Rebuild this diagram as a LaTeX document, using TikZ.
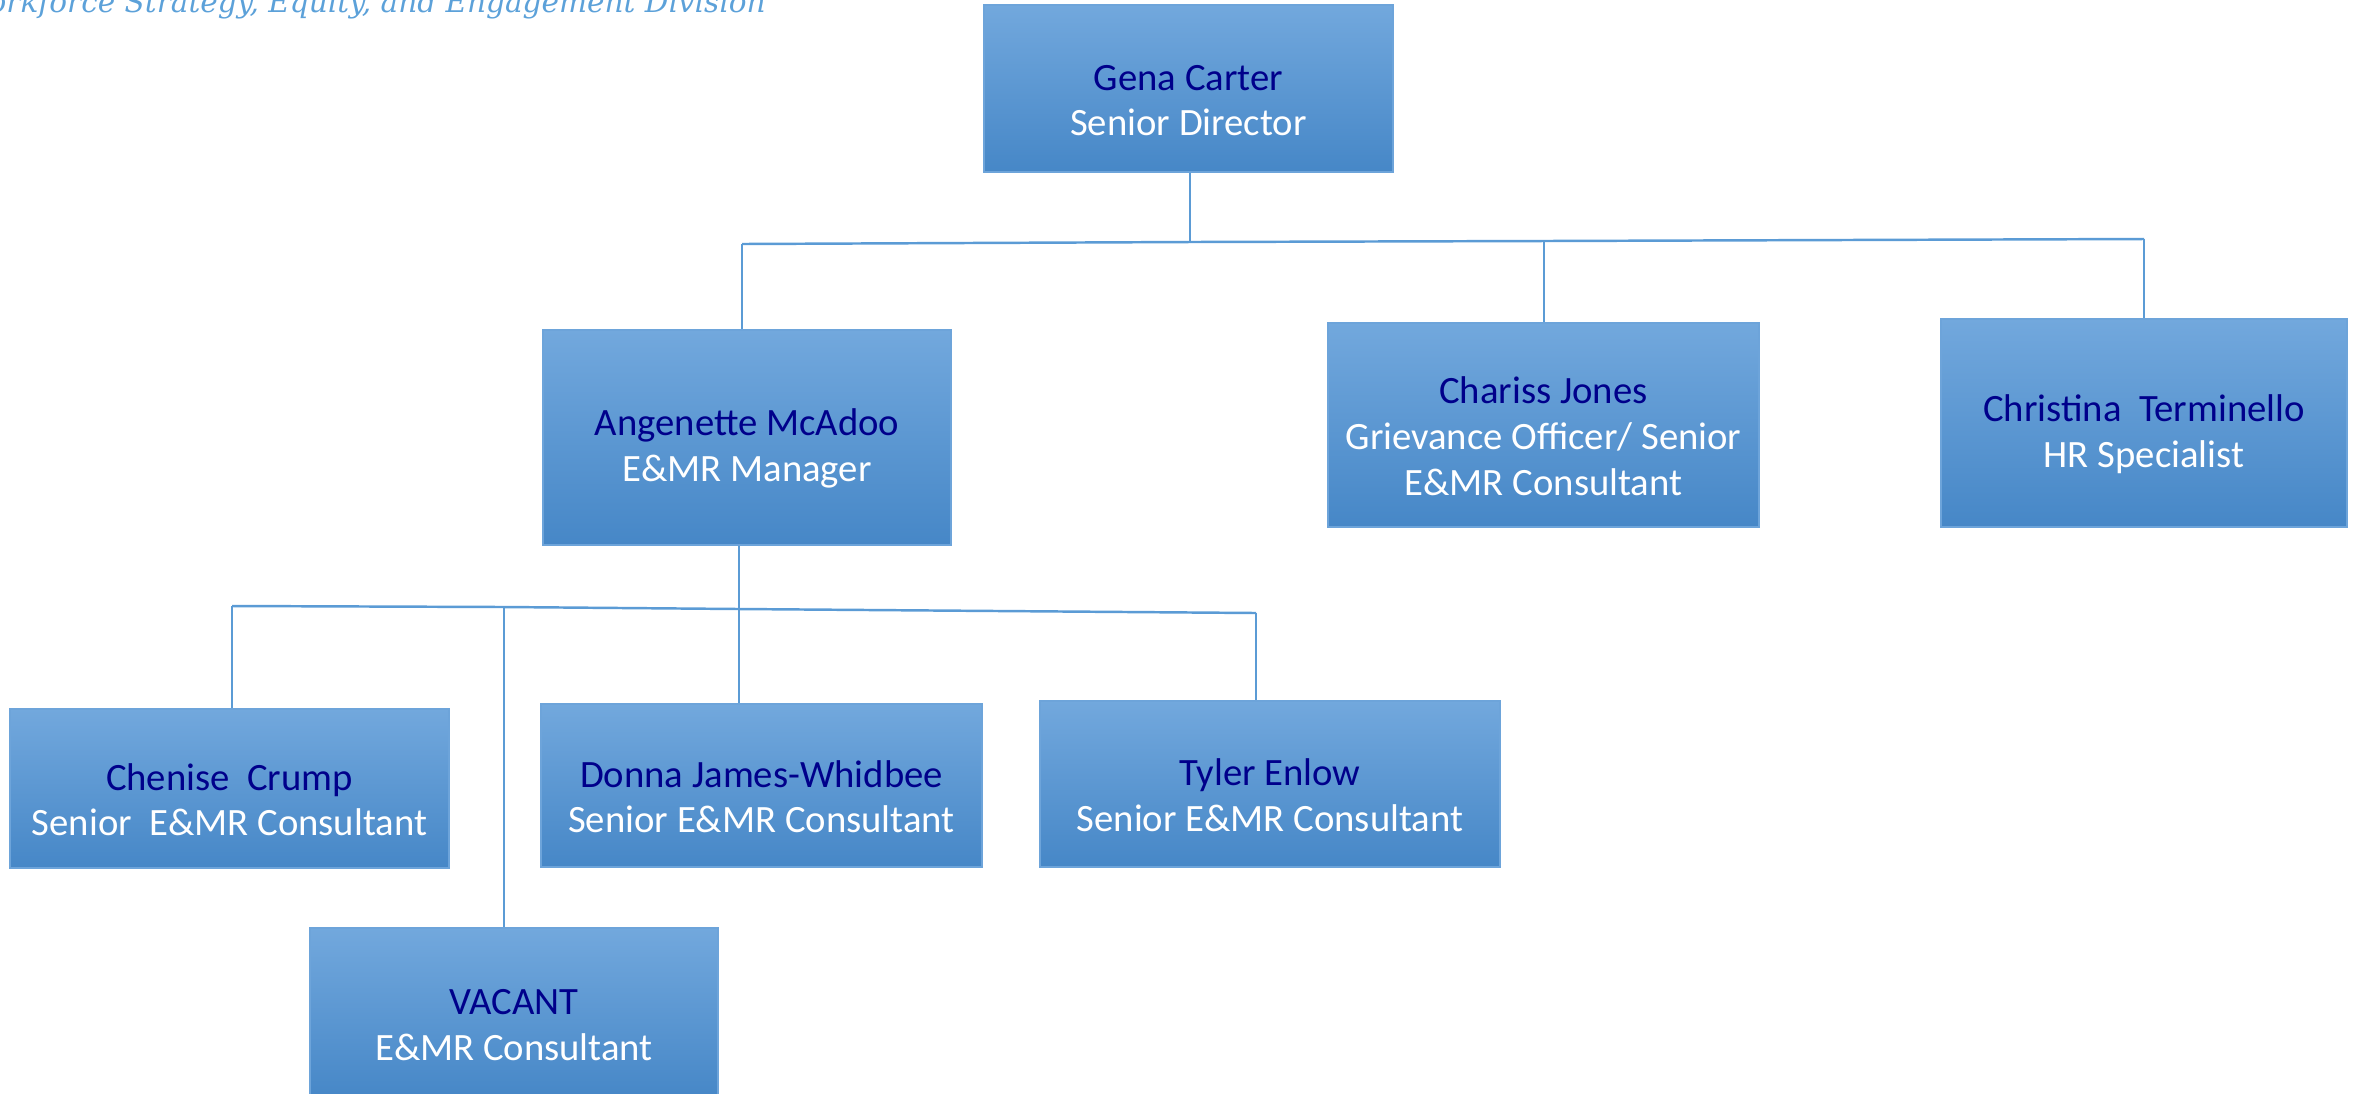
\documentclass[tikz,border=0pt]{standalone}
\usepackage{fontspec}
\setmainfont{Carlito}
\newfontfamily\headfont{DejaVu Serif}
\usetikzlibrary{calc}

\definecolor{boxtop}{HTML}{72A8DD}
\definecolor{boxbot}{HTML}{4687C7}
\definecolor{boxline}{HTML}{6DA4DA}
\definecolor{namecol}{HTML}{00008B}
\definecolor{linkcol}{HTML}{5B9BD5}
\definecolor{headcol}{HTML}{5CA1D9}

\newcommand{\pname}[1]{\rule{0pt}{14pt}\textcolor{namecol}{#1}}

\begin{document}
\begin{tikzpicture}
	[x=0.01cm,
	 y=-0.01cm,
	 font=\fontsize{11}{13}\selectfont,
	 align=center,
	 person/.style={draw=boxline, line width=0.6pt, top color=boxtop, bottom color=boxbot, text=white, inner sep=0pt},
	 link/.style={draw=linkcol, line width=0.7pt}]

	\clip (0,0) rectangle (2359,1093);
	\useasboundingbox (0,0) rectangle (2359,1093);

	\node[anchor=base east, text=headcol, font=\headfont\itshape\fontsize{8.4}{10}\selectfont] (division) at (778,12) {Workforce Strategy, Equity, and Engagement Division};

	\node[person, minimum width=4.09cm, minimum height=1.67cm] (gena) at (1188.5,88.5) {\pname{Gena Carter}\\Senior Director};
	\node[person, minimum width=4.08cm, minimum height=2.15cm] (angenette) at (747,437.5) {\pname{Angenette McAdoo}\\E\&MR Manager};
	\node[person, minimum width=4.31cm, minimum height=2.04cm] (chariss) at (1543.5,425) {\pname{Chariss Jones}\\Grievance Officer/ Senior\\E\&MR Consultant};
	\node[person, minimum width=4.06cm, minimum height=2.08cm] (christina) at (2144,423) {\pname{Christina\ \ Terminello}\\HR Specialist};

	\node[person, minimum width=4.39cm, minimum height=1.59cm] (chenise) at (229.5,788.5) {\pname{Chenise\ \ Crump}\\Senior\ \ E\&MR Consultant};
	\node[person, minimum width=4.41cm, minimum height=1.63cm] (donna) at (761.5,785.5) {\pname{Donna James-Whidbee}\\Senior E\&MR Consultant};
	\node[person, minimum width=4.60cm, minimum height=1.66cm] (tyler) at (1270,784) {\pname{Tyler Enlow}\\Senior E\&MR Consultant};
	\node[person, minimum width=4.08cm, minimum height=1.70cm] (vacant) at (514,1013) {\pname{VACANT}\\E\&MR Consultant};

	% top bus
	\coordinate (tb1) at (742,244);
	\coordinate (tb2) at (1190,242);
	\coordinate (tb3) at (1544,241);
	\coordinate (tb4) at (2144,239);
	% lower bus
	\coordinate (lb1) at (232,606);
	\coordinate (lb2) at (504,607);
	\coordinate (lb3) at (739,609);
	\coordinate (lb4) at (1256,613);

	\draw[link] (tb2 |- gena.south) -- (tb2);
	\draw[link] (tb1) -- (tb2) -- (tb3) -- (tb4);
	\draw[link] (tb1) -- (tb1 |- angenette.north);
	\draw[link] (tb3) -- (tb3 |- chariss.north);
	\draw[link] (tb4) -- (tb4 |- christina.north);

	\draw[link] (lb3 |- angenette.south) -- (lb3);
	\draw[link] (lb1) -- (lb2) -- (lb3) -- (lb4);
	\draw[link] (lb1) -- (lb1 |- chenise.north);
	\draw[link] (lb2) -- (lb2 |- vacant.north);
	\draw[link] (lb3) -- (lb3 |- donna.north);
	\draw[link] (lb4) -- (lb4 |- tyler.north);
\end{tikzpicture}
\end{document}
